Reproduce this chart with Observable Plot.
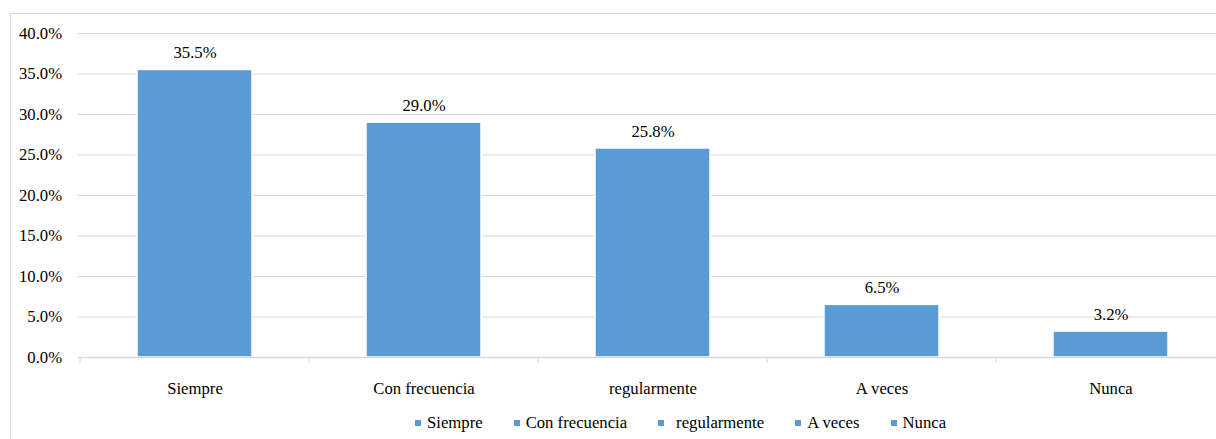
<!DOCTYPE html>
<html>
<head>
<meta charset="utf-8">
<script src="https://cdn.jsdelivr.net/npm/d3@7"></script>
<script src="https://cdn.jsdelivr.net/npm/@observablehq/plot@0.6"></script>
<style>
  html, body { margin: 0; padding: 0; background: #fff; overflow: hidden; width: 1216px; height: 439px; }
  #frame { position: absolute; left: 10px; top: 13px; width: 1400px; height: 600px; border: 1px solid #d9d9d9; box-sizing: border-box; }
  #chart { position: absolute; left: 0; top: 0; }
  #chart svg { max-width: none !important; font-family: 'Liberation Serif', 'Times New Roman', serif; }
  #chart svg text { font-family: 'Liberation Serif', 'Times New Roman', serif; }
  #legend { position: absolute; left: 415px; top: 413px; display: flex; align-items: center;
            font-family: 'Liberation Serif', 'Times New Roman', serif; font-size: 16.7px; color: #000; white-space: pre; }
  #legend .item { display: flex; align-items: center; margin-right: 31px; }
  #legend .sw { width: 6px; height: 6px; background: #5b9bd5; margin-right: 6px; }
</style>
</head>
<body>
<div id="frame"></div>
<div id="chart"></div>
<div id="legend"></div>
<script>
// Frecuencia de respuestas por categoría
const categories = ["Siempre", "Con frecuencia", "regularmente", "A veces", "Nunca"];
const shares = [0.355, 0.29, 0.258, 0.065, 0.032];
const yTicks = [0, 0.05, 0.1, 0.15, 0.2, 0.25, 0.3, 0.35, 0.4];

const barColor = "#5b9bd5";
const gridColor = "#d9d9d9";
const font = "'Liberation Serif', 'Times New Roman', serif";
const fontSize = 16.7;

const rows = categories.map((c, i) => ({category: c, share: shares[i]}));

const marginLeft = 77.6, marginRight = 13.6, width = 1240;
const step = (width - marginLeft - marginRight) / categories.length;

// category separators on the baseline: left edge of every band plus the right edge of the last one
const leftEdges = categories;
const rightEdge = categories.slice(-1);

const chart = Plot.plot({
  width,
  height: 400,
  marginLeft,
  marginRight,
  marginTop: 33,
  marginBottom: 43,
  style: {fontFamily: font, fontSize: fontSize + "px", color: "#000", background: "transparent", maxWidth: "none"},
  x: {domain: categories, paddingInner: 0.5, paddingOuter: 0.25, label: null},
  y: {domain: [0, 0.4], label: null},
  marks: [
    Plot.gridY(yTicks.slice(1), {stroke: gridColor, strokeOpacity: 1, strokeWidth: 1}),
    Plot.axisY(yTicks, {tickSize: 0, tickPadding: 16, tickFormat: d3.format(".1%"), fontSize, fill: "#000"}),
    Plot.barY(rows, {x: "category", y: "share", fill: barColor, stroke: "#fff", strokeWidth: 1.5}),
    Plot.ruleY([0], {stroke: gridColor, strokeWidth: 1.5}),
    Plot.ruleX(leftEdges, {x: d => d, dx: -step / 2, y1: 0, y2: -0.0075, stroke: gridColor, strokeWidth: 1}),
    Plot.ruleX(rightEdge, {x: d => d, dx: step / 2, y1: 0, y2: -0.0075, stroke: gridColor, strokeWidth: 1}),
    Plot.text(rows, {x: "category", y: "share", text: d => d3.format(".1%")(d.share), dy: -17, fontSize, fill: "#000"}),
    Plot.axisX({tickSize: 0, tickPadding: 25, fontSize, fill: "#000"})
  ]
});
document.getElementById("chart").appendChild(chart);

// legend
const legend = d3.select("#legend");
categories.forEach(c => {
  const item = legend.append("div").attr("class", "item");
  item.append("div").attr("class", "sw").style("margin-right", c === "regularmente" ? "12px" : "6px");
  item.append("span").text(c);
});
</script>
</body>
</html>
